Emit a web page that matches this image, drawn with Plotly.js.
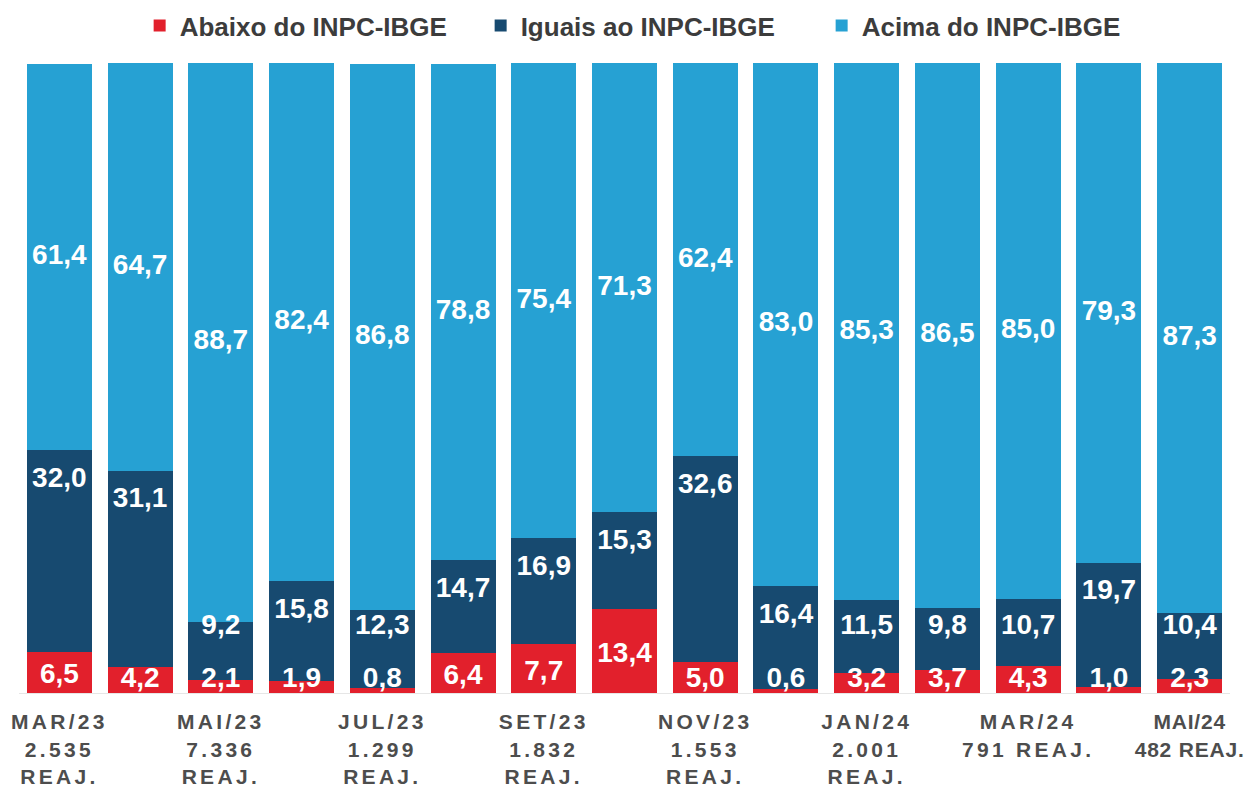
<!DOCTYPE html>
<html>
<head>
<meta charset="utf-8">
<script src="https://cdn.plot.ly/plotly-3.0.1.min.js"></script>
<style>
  html, body { margin: 0; padding: 0; background: #fff; }
  #chart { width: 1254px; height: 790px; }
  .xtick text { letter-spacing: 3.3px; }
  .xtick:last-of-type text { letter-spacing: 0.8px; }
</style>
</head>
<body>
<div id="chart"></div>
<script>
// Categories (months)
const months = ["MAR/23","ABR/23","MAI/23","JUN/23","JUL/23","AGO/23","SET/23","OUT/23","NOV/23","DEZ/23","JAN/24","FEV/24","MAR/24","ABR/24","MAI/24"];

// Series values (%)
const abaixo = [6.5, 4.2, 2.1, 1.9, 0.8, 6.4, 7.7, 13.4, 5.0, 0.6, 3.2, 3.7, 4.3, 1.0, 2.3];
const iguais = [32.0, 31.1, 9.2, 15.8, 12.3, 14.7, 16.9, 15.3, 32.6, 16.4, 11.5, 9.8, 10.7, 19.7, 10.4];
const acima  = [61.4, 64.7, 88.7, 82.4, 86.8, 78.8, 75.4, 71.3, 62.4, 83.0, 85.3, 86.5, 85.0, 79.3, 87.3];

// Tick labels (shown every other month)
const tickMonths = ["MAR/23","MAI/23","JUL/23","SET/23","NOV/23","JAN/24","MAR/24","MAI/24"];
const tickLabels = [
  "MAR/23<br>2.535<br>REAJ.",
  "MAI/23<br>7.336<br>REAJ.",
  "JUL/23<br>1.299<br>REAJ.",
  "SET/23<br>1.832<br>REAJ.",
  "NOV/23<br>1.553<br>REAJ.",
  "JAN/24<br>2.001<br>REAJ.",
  "MAR/24<br>791 REAJ.",
  "MAI/24<br>482 REAJ."
];

const seriesNames = ["Abaixo do INPC-IBGE", "Iguais ao INPC-IBGE", "Acima do INPC-IBGE"];
const colors = ["#E2202C", "#174A70", "#26A1D3"];

const fmt = v => v.toFixed(1).replace(".", ",");
const FONT = "Arial, 'Liberation Sans', sans-serif";

function barTrace(vals, i) {
  return {
    type: "bar", x: months, y: vals, name: seriesNames[i],
    marker: { color: colors[i], line: { width: 0 } },
    hoverinfo: "skip"
  };
}

// label positions derived from data
const yRed = abaixo.map(v => Math.max(v / 2 - 0.6, 2.0));
const yDark = iguais.map((v, i) => Math.max(abaixo[i] + v - 4.7, 10.5));
const yLight = acima.map((v, i) => abaixo[i] + iguais[i] + v / 2);

function textTrace(yPos, vals) {
  return {
    type: "scatter", mode: "text", x: months, y: yPos,
    text: vals.map(fmt), textposition: "middle center",
    textfont: { family: FONT, size: 28, color: "#ffffff", weight: "bold" },
    showlegend: false, hoverinfo: "skip", cliponaxis: false
  };
}

const data = [
  barTrace(abaixo, 0), barTrace(iguais, 1), barTrace(acima, 2),
  textTrace(yRed, abaixo), textTrace(yDark, iguais), textTrace(yLight, acima)
];

const layout = {
  width: 1254, height: 790,
  barmode: "stack", bargap: 0.195,
  margin: { l: 19, r: 24, t: 63, b: 97, autoexpand: false },
  paper_bgcolor: "#ffffff", plot_bgcolor: "#ffffff",
  showlegend: true,
  legend: {
    orientation: "h", x: 0.522, xanchor: "center", y: 1.022, yanchor: "bottom",
    font: { family: FONT, size: 26, color: "#3c3c3c", weight: "bold" },
    traceorder: "normal", itemwidth: 30, entrywidth: 296
  },
  xaxis: {
    type: "category", categoryorder: "array", categoryarray: months,
    range: [-0.5, months.length - 0.5], autorange: false,
    tickmode: "array", tickvals: tickMonths, ticktext: tickLabels,
    tickfont: { family: FONT, size: 21, color: "#4d4d4d", weight: "bold" },
    ticks: "", showgrid: false, zeroline: false, automargin: false,
    showline: true, linecolor: "#e6e6e6", linewidth: 1,
    ticklabelstandoff: 10, fixedrange: true
  },
  yaxis: {
    range: [0, 100], autorange: false, visible: false, showgrid: false, zeroline: false,
    automargin: false, fixedrange: true
  }
};

Plotly.newPlot("chart", data, layout, { displayModeBar: false, staticPlot: true });
</script>
</body>
</html>
